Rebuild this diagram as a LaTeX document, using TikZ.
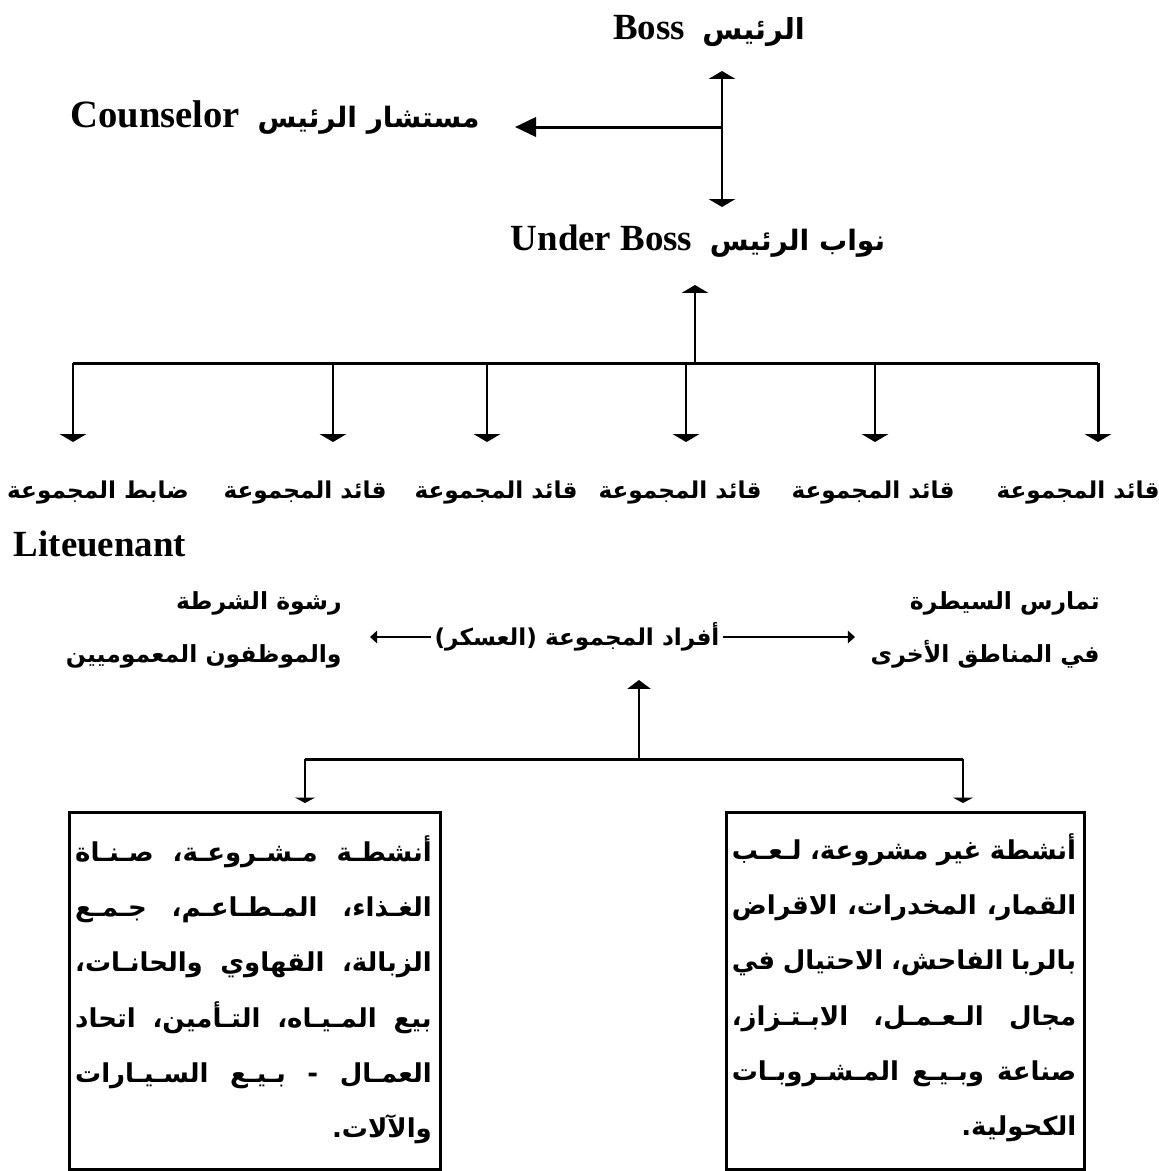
\documentclass[tikz,border=0pt]{standalone}
\usepackage{fontspec}
\setmainfont{Liberation Serif}
\newfontfamily\arabicfont[Script=Arabic]{DejaVu Sans}
\TeXXeTstate=1
\usetikzlibrary{arrows.meta}
\newcommand\ar[1]{{\arabicfont\bfseries\beginR #1\endR}}
\newlength\boxw
\newcommand\jl[1]{\hbox to \boxw{\beginR #1\endR}}
\newcommand\jlast[1]{\hbox to \boxw{\hfill\beginR #1\endR}}
\tikzset{
  ln/.style={line width=1.7pt},
  hdr/.style={inner sep=0pt, font=\fontsize{21}{25}\selectfont\bfseries},
  arh/.style={inner sep=0pt, font=\arabicfont\bfseries\fontsize{13.2}{16}\selectfont},
  arml/.style={inner sep=0pt, align=right, font=\arabicfont\bfseries\fontsize{13.4}{30}\selectfont},
  boxn/.style={draw, line width=1.7pt, inner sep=0pt, anchor=north west},
  boxtext/.style={inner sep=0pt, font=\arabicfont\bfseries\fontsize{14.8}{31.5}\selectfont},
  tipbig/.style={-{Triangle[width=15pt,length=4.5pt]}},
  tipboth/.style={{Triangle[width=15pt,length=4.5pt]}-{Triangle[width=15pt,length=4.5pt]}},
  tipleft/.style={-{Triangle[width=11pt,length=12pt]}},
  tipup/.style={-{Triangle[width=13pt,length=5pt]}},
  tipsmall/.style={-{Triangle[width=11pt,length=3pt]}},
  tipmid/.style={line width=1.1pt,-{Triangle[width=7pt,length=4pt]}},
}
\begin{document}
\begin{tikzpicture}[x=0.02cm,y=-0.02cm]
\useasboundingbox (0,0) rectangle (1159,1171);
% top labels
\node[hdr] (boss) at (709,31) {Boss\hspace{10pt}{\fontsize{16.5}{19}\selectfont\ar{الرئيس}}};
\node[hdr] (couns) at (275,118) {\fontsize{22}{25}\selectfont Counselor\hspace{10pt}{\fontsize{16}{19}\selectfont\ar{مستشار الرئيس}}};
\node[hdr] (uboss) at (698,241) {Under Boss\hspace{10pt}{\fontsize{16}{19}\selectfont\ar{نواب الرئيس}}};
% boss connectors
\coordinate (bt) at (722,71);
\coordinate (bb) at (722,207);
\coordinate (bj) at (722,127);
\coordinate (cl) at (515,127);
\draw[ln,tipboth] (bt) -- (bb);
\draw[ln,tipleft] (bj) -- (cl);
% under boss to group row
\coordinate (ubt) at (695,285);
\coordinate (ubj) at (695,363);
\draw[ln,tipbig] (ubj) -- (ubt);
\coordinate (hl) at (73,363);
\coordinate (hr) at (1098,363);
\draw[ln] (hl) -- (hr);
\foreach \x/\n in {73/a,333/b,487/c,686/d,875/e,1098/f}{
  \coordinate (s\n) at (\x,363);
  \coordinate (t\n) at (\x,442);
  \draw[ln,tipbig] (s\n) -- (t\n);
}
% group labels
\node[arh] (ga) at (98,493) {\ar{ضابط المجموعة}};
\node[arh] (gb) at (305,493) {\ar{قائد المجموعة}};
\node[arh] (gc) at (496,493) {\ar{قائد المجموعة}};
\node[arh] (gd) at (680,493) {\ar{قائد المجموعة}};
\node[arh] (ge) at (873,493) {\ar{قائد المجموعة}};
\node[arh] (gf) at (1078,493) {\ar{قائد المجموعة}};
\node[hdr] (lt) at (100,544) {Liteuenant};
% middle row
\node[arml,anchor=east] (rash) at (342,630) {\ar{رشوة الشرطة}\\\ar{والموظفون المعموميين}};
\node[arml,anchor=east] (tam) at (1100,630) {\ar{تمارس السيطرة}\\\ar{في المناطق الأخرى}};
\node[arh, inner xsep=2pt] (mid) at (577,637) {\ar{أفراد المجموعة (العسكر)}};
\coordinate (ml) at (370,637);
\coordinate (mr) at (855,637);
\draw[tipmid] (mid.west) -- (ml);
\draw[tipmid] (mid.east) -- (mr);
% bottom connectors
\coordinate (bj2) at (639,759);
\coordinate (bup) at (639,680);
\draw[ln,tipup] (bj2) -- (bup);
\coordinate (bl) at (305,759);
\coordinate (br) at (963,759);
\draw[ln] (bl) -- (br);
\coordinate (blt) at (305,803);
\coordinate (brt) at (963,803);
\draw[ln,tipsmall] (bl) -- (blt);
\draw[ln,tipsmall] (br) -- (brt);
% boxes
\node[boxn, minimum width=371*0.02cm, minimum height=357*0.02cm] (lbox) at (68,811) {};
\node[boxn, minimum width=358*0.02cm, minimum height=357*0.02cm] (rbox) at (725,811) {};
\setlength\boxw{203pt}
\node[boxtext, anchor=north] (ltext) at (253.5,835) {\vbox{\baselineskip=31.5pt
\jl{أنشطـة مـشـروعـة، صـنـاة}
\jl{الغـذاء، المـطـاعـم، جـمـع}
\jl{الزبالة، القهاوي والحانـات،}
\jl{بيع المـيـاه، التـأمين، اتحاد}
\jl{العمـال - بـيـع السـيـارات}
\jlast{والآلات.}}};
\setlength\boxw{196pt}
\node[boxtext, anchor=north] (rtext) at (904,833) {\vbox{\baselineskip=31.5pt
\jl{أنشطة غير مشروعة، لـعـب}
\jl{القمار، المخدرات، الاقراض}
\jl{بالربا الفاحش، الاحتيال في}
\jl{مجال الـعـمـل، الابـتـزاز،}
\jl{صناعة وبـيـع المـشـروبـات}
\jlast{الكحولية.}}};
\end{tikzpicture}
\end{document}
